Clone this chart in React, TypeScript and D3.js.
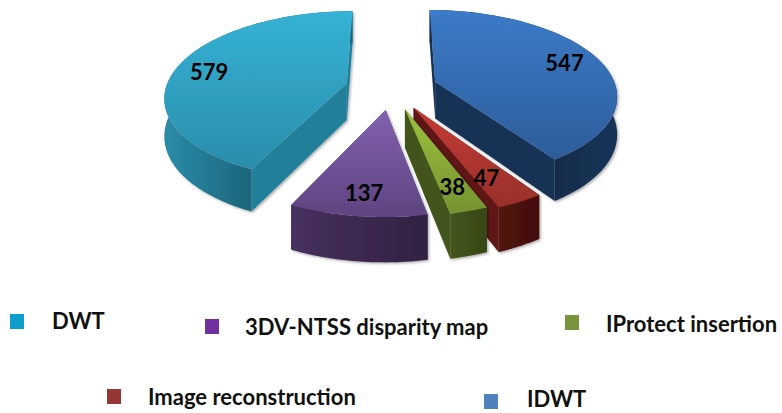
import React from "react";
import * as d3 from "d3";

const categories = ["IDWT", "Image reconstruction", "IProtect insertion", "3DV-NTSS disparity map", "DWT"];
const values = [547, 47, 38, 137, 579];
const topLight = ["#3B7BC8", "#C63B34", "#9DC23F", "#8261AE", "#35B2D6"];
const topDark = ["#2D5C9A", "#98302B", "#749330", "#5E4480", "#2A8DAA"];
const radialWall = ["#163255", "#5F1612", "#43551C", "#3F2C5A", "#217F9A"];
const arcLight = ["#173458", "#521310", "#43561C", "#47315F", "#2C8CA8"];
const arcDark = ["#122A47", "#42100D", "#364717", "#312142", "#1A6276"];
const radiusScale = [1, 1.02, 1, 1, 1];
const paintOrder = [4, 0, 1, 2, 3];

const legendNames = ["DWT", "3DV-NTSS disparity map", "IProtect insertion", "Image reconstruction", "IDWT"];
const legendColors = ["#0F9FCF", "#7030A0", "#77933C", "#953735", "#4F81BD"];
const legendSwatchX = [10, 205, 565, 107, 484];
const legendSwatchY = [314, 319, 315, 389, 394];
const legendTextX = [52, 245, 606, 148, 527];
const legendBaseline = [329, 335, 332, 405, 407];

const labelNudgeX = [27, 12, 10, -5, -32];
const labelNudgeY = [-5, 16, 18, 21, -1];

const cx = 391.5, cy = 88, rx = 181, ry = 84, persp = 0.147, explode = 0.255, depth = 37;

function project(theta: number, r: number, mid: number, down = 0): [number, number] {
  const X = r * Math.sin(theta) + explode * Math.sin(mid);
  const Z = -r * Math.cos(theta) - explode * Math.cos(mid);
  const s = 1 / (1 - persp * Z);
  return [cx + rx * X * s, cy + ry * Z * s + down * depth * s];
}

const line = d3.line();

export default function App() {
  const arcs = d3.pie<number>().sort(null)(values);
  return (
    <svg width={782} height={413} style={{ position: "absolute", left: 0, top: 0, background: "#fff" }}>
      <defs>
        <filter id="sh" x="-10%" y="-10%" width="125%" height="125%">
          <feDropShadow dx={1.5} dy={1.5} stdDeviation={1.2} floodColor="#000" floodOpacity={0.3} />
        </filter>
        {categories.map((_, i) => (
          <React.Fragment key={i}>
            <linearGradient id={`top${i}`} x1={0} y1={0} x2={0} y2={1}>
              <stop offset="0" stopColor={topLight[i]} />
              <stop offset="1" stopColor={topDark[i]} />
            </linearGradient>
            <linearGradient id={`arc${i}`} x1={0} y1={0} x2={1} y2={0}>
              <stop offset={i === 4 ? 0 : i === 0 ? 0.6 : 0} stopColor={i === 0 ? arcDark[i] : arcLight[i]} />
              <stop offset={i === 4 ? 0.5 : 1} stopColor={i === 0 ? arcLight[i] : arcDark[i]} />
            </linearGradient>
          </React.Fragment>
        ))}
      </defs>
      {paintOrder.map((i) => {
        const a = arcs[i];
        const mid = (a.startAngle + a.endAngle) / 2;
        const steps = d3.range(0, 61).map((t) => a.startAngle + ((a.endAngle - a.startAngle) * t) / 60);
        const rim = steps.map((t) => project(t, radiusScale[i], mid));
        const rimLow = steps.map((t) => project(t, radiusScale[i], mid, 1)).reverse();
        const apex = project(0, 0, mid);
        const apexLow = project(0, 0, mid, 1);
        const wallPath = (p: [number, number], q: [number, number]) => line([apex, p, q, apexLow]) + "Z";
        return (
          <g key={i} filter="url(#sh)">
            <path d={wallPath(rim[0], rimLow[60])} fill={radialWall[i]} />
            <path d={wallPath(rim[60], rimLow[0])} fill={radialWall[i]} />
            <path d={line([...rim, ...rimLow]) + "Z"} fill={`url(#arc${i})`} />
            <path d={line([apex, ...rim]) + "Z"} fill={`url(#top${i})`} />
          </g>
        );
      })}
      {arcs.map((a, i) => {
        const mid = (a.startAngle + a.endAngle) / 2;
        const [x, y] = project(mid, 0.62, mid);
        return (
          <text key={i} x={x + labelNudgeX[i]} y={y + labelNudgeY[i]} textAnchor="middle" dominantBaseline="central"
            fontFamily="Lato" fontWeight={700} fontSize={22} fill="#000">
            {values[i]}
          </text>
        );
      })}
      {legendNames.map((n, i) => (
        <g key={n}>
          <rect x={legendSwatchX[i]} y={legendSwatchY[i]} width={14} height={15} fill={legendColors[i]} />
          <text x={legendTextX[i]} y={legendBaseline[i]} fontFamily="Lato" fontWeight={700} fontSize={22} fill="#111">{n}</text>
        </g>
      ))}
    </svg>
  );
}
